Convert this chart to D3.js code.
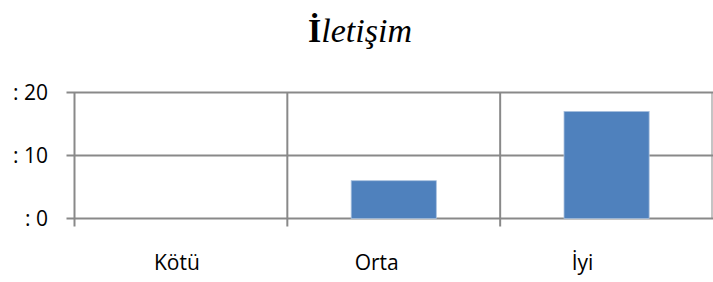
<!DOCTYPE html>
<html><head><meta charset="utf-8">
<script src="https://cdn.jsdelivr.net/npm/d3@7"></script>
<style>html,body{margin:0;padding:0;background:#fff;}svg{display:block;}</style>
</head><body>
<svg id="chart" width="713" height="282"></svg>
<script>
const categories = ["Kötü", "Orta", "İyi"];
const values = [0, 6, 17];
const yTicks = [0, 10, 20];
const yTickLabels = [": 0", ": 10", ": 20"];
const titleFirst = "İ";
const titleRest = "letişim";

const svg = d3.select("#chart");
const margin = {left: 74.5, right: 0, top: 92.5, bottom: 63.5};
const W = 713, H = 282;
const x = d3.scaleBand().domain(categories).range([margin.left, W]).paddingInner(0).paddingOuter(0);
const y = d3.scaleLinear().domain([0, 20]).range([H - margin.bottom, margin.top]);
const grid = "#898989";

// horizontal gridlines
svg.append("g").selectAll("line").data(yTicks).join("line")
  .attr("x1", margin.left - 8).attr("x2", W)
  .attr("y1", d => y(d)).attr("y2", d => y(d))
  .attr("stroke", grid).attr("stroke-width", 2);

// vertical gridlines at band boundaries
const bounds = categories.map(c => x(c)).concat([x(categories[categories.length-1]) + x.bandwidth() - 1]);
svg.append("g").selectAll("line").data(bounds).join("line")
  .attr("x1", d => d).attr("x2", d => d)
  .attr("y1", margin.top).attr("y2", (d, i) => i < bounds.length - 1 ? y(0) + 8 : y(0))
  .attr("stroke", grid).attr("stroke-width", (d, i) => i < bounds.length - 1 ? 2 : 1);

// bars
const bw = x.bandwidth() * 0.4;
svg.append("g").selectAll("rect").data(values).join("rect")
  .attr("x", (d, i) => x(categories[i]) + (x.bandwidth() - bw) / 2)
  .attr("width", bw)
  .attr("y", d => y(d))
  .attr("height", d => y(0) - y(d))
  .attr("fill", "#4f81bd")
  .attr("stroke", "#a9c1df").attr("stroke-width", d => d > 0 ? 0.8 : 0);

// y labels
svg.append("g").selectAll("text").data(yTicks).join("text")
  .attr("x", 48).attr("y", d => y(d)).attr("dy", "0.36em")
  .attr("text-anchor", "end")
  .style("font-family", "'Open Sans', sans-serif").style("font-size", "21px").attr("fill", "#000")
  .text((d, i) => yTickLabels[i]);

// x labels
const labelShift = [-4, -17, -24];
svg.append("g").selectAll("text").data(categories).join("text")
  .attr("x", (d, i) => x(d) + x.bandwidth() / 2 + labelShift[i]).attr("y", 270)
  .attr("text-anchor", "middle")
  .style("font-family", "'Open Sans', sans-serif").style("font-size", "21px").attr("fill", "#000")
  .text(d => d);

// title
const t = svg.append("text").attr("x", 360).attr("y", 42).attr("text-anchor", "middle").attr("fill", "#000");
t.append("tspan").text(titleFirst).style("font-family", "'Liberation Serif', serif").style("font-weight", "bold").style("font-size", "34px");
t.append("tspan").text(titleRest).style("font-family", "'Liberation Serif', serif").style("font-style", "italic").style("font-size", "34px");
</script>
</body></html>
